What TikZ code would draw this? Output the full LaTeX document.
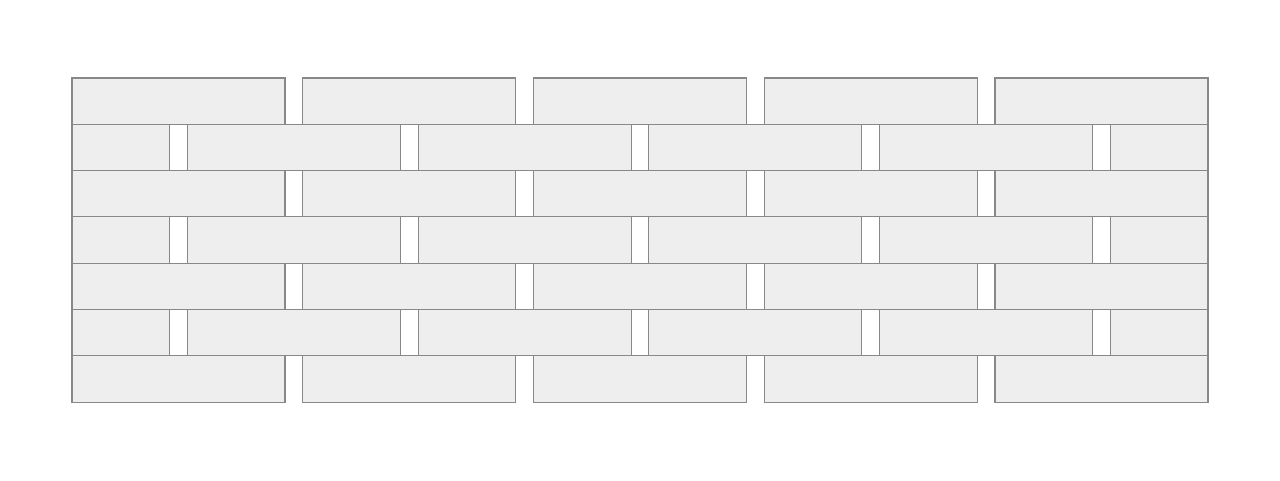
\documentclass[tikz,border=0pt]{standalone}
\usepackage{tikz}
\definecolor{brickfill}{HTML}{EEEEEE}
\definecolor{brickline}{HTML}{888888}
\tikzset{brick/.style={fill=brickfill, draw=brickline, line width=0.6pt}}

\begin{document}
\begin{tikzpicture}[x=0.02cm, y=-0.02cm]
  \useasboundingbox (0,0) rectangle (1280,480);

  \def\P{230.75}   % brick period
  \def\W{213}      % brick width
  \def\H{46.29}    % row height
  \def\L{72}       % left edge
  \def\R{1208}     % right edge
  \def\T{78}       % top edge

  %% ── Full rows (0, 2, 4, 6) ─────────────────
  \foreach \r in {0,2,4,6} {
    \foreach \k in {0,...,4} {
      \draw[brick] (\L+\k*\P,\T+\r*\H) rectangle ++(\W,\H);
    }
  }

  %% ── Offset rows (1, 3, 5) ──────────────────
  \foreach \r in {1,3,5} {
    % half bricks at both ends
    \draw[brick] (\L,\T+\r*\H) rectangle (\L+\P/2+\W-\P,\T+\r*\H+\H);
    \draw[brick] (\L+4.5*\P,\T+\r*\H) rectangle (\R,\T+\r*\H+\H);
    % full bricks
    \foreach \k in {0,...,3} {
      \draw[brick] (\L+\P/2+\k*\P,\T+\r*\H) rectangle ++(\W,\H);
    }
  }

\end{tikzpicture}
\end{document}
